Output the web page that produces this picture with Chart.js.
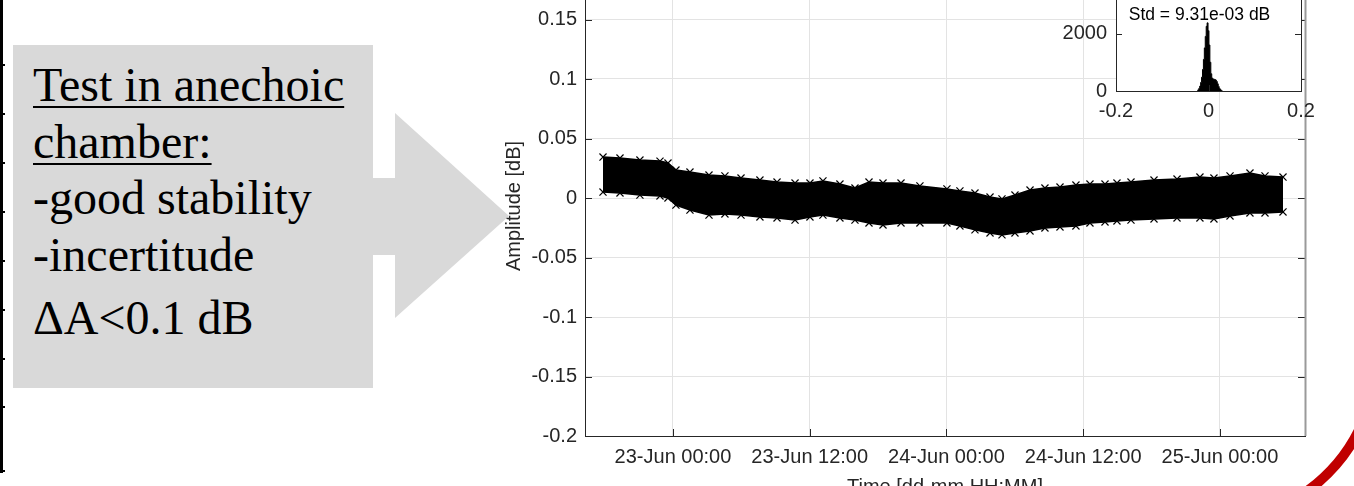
<!DOCTYPE html>
<html>
<head>
<meta charset="utf-8">
<script src="https://cdn.jsdelivr.net/npm/chart.js@4.4.1/dist/chart.umd.min.js"></script>
<style>
  html, body { margin: 0; padding: 0; background: #fff; }
  body { width: 1354px; height: 486px; position: relative; overflow: hidden; }
  .abs { position: absolute; }
  #note {
    left: 13px; top: 45px; width: 340px; height: 331px;
    background: #d9d9d9; padding: 12px 0 0 20px;
    font-family: 'Liberation Serif', 'Times New Roman', serif;
    font-size: 48px; line-height: 56.7px; color: #000;
  }
  #note u { text-decoration-thickness: 2px; text-underline-offset: 5px; }
  #note .last { margin-top: 6px; }
  #edge { left: 0; top: 0; width: 3px; height: 473px; background: #000; }
  .etick { position: absolute; left: 0; width: 5px; height: 2px; background: #000; }
</style>
</head>
<body>

<!-- slide decorations -->
<div id="edge" class="abs"></div>
<div id="edgeTicks"></div>
<svg class="abs" style="left:0;top:0" width="1354" height="486">
  <polygon points="373,178 395,178 395,113 509,216 395,318 395,255 373,255" fill="#d9d9d9"/>
</svg>
<div id="note" class="abs">
  <u>Test in anechoic</u><br>
  <u>chamber:</u><br>
  -good stability<br>
  -incertitude<br>
  <div class="last">&Delta;A&lt;0.1 dB</div>
</div>

<canvas id="main" class="abs" style="left:490px;top:-60px" width="864" height="570"></canvas>
<canvas id="inset" class="abs" style="left:1040px;top:-45px" width="300" height="180"></canvas>

<svg class="abs" style="left:0;top:0;pointer-events:none" width="1354" height="486">
  <path d="M 1306 492 Q 1342 466 1360 428" fill="none" stroke="#c00000" stroke-width="10"/>
</svg>

<script>
// Amplitude stability record (hours counted from 22-Jun 00:00)
const timeHours = [17.86, 19.35, 21.10, 22.86, 23.56, 24.26, 25.49, 27.16, 28.56, 29.97,
  31.63, 33.13, 34.71, 36.02, 37.16, 38.65, 39.97, 41.20, 42.43, 44.01,
  45.67, 48.04, 49.18, 50.50, 51.82, 52.87, 54.01, 55.33, 56.64, 57.96,
  59.36, 60.59, 61.91, 62.96, 64.19, 66.21, 68.23, 70.24, 71.47, 72.88,
  74.63, 75.95, 77.53];
// upper and lower edge of the measured band [dB]
const upperAmp = [0.0344, 0.0336, 0.0319, 0.0310, 0.0294, 0.0235, 0.0218, 0.0193, 0.0185, 0.0168,
  0.0151, 0.0134, 0.0126, 0.0126, 0.0143, 0.0117, 0.0084, 0.0134, 0.0126, 0.0126,
  0.0101, 0.0076, 0.0059, 0.0042, 0.0008, -0.0008, 0.0025, 0.0067, 0.0084, 0.0092,
  0.0109, 0.0117, 0.0117, 0.0126, 0.0134, 0.0151, 0.0159, 0.0176, 0.0168, 0.0185,
  0.0210, 0.0185, 0.0176];
const lowerAmp = [0.0050, 0.0042, 0.0025, 0.0017, 0.0000, -0.0059, -0.0101, -0.0143, -0.0134, -0.0143,
  -0.0159, -0.0168, -0.0185, -0.0159, -0.0143, -0.0168, -0.0185, -0.0210, -0.0227, -0.0210,
  -0.0210, -0.0210, -0.0235, -0.0268, -0.0294, -0.0310, -0.0294, -0.0277, -0.0252, -0.0243,
  -0.0235, -0.0210, -0.0201, -0.0193, -0.0185, -0.0176, -0.0168, -0.0168, -0.0176, -0.0151,
  -0.0126, -0.0126, -0.0117];

const xTickHours = [24, 36, 48, 60, 72];
const xMin = 16.28, xMax = 79.46;
const yMin = -0.2, yMax = 0.2, yStep = 0.05;
const yTitle = 'Amplitude [dB]';

// inset histogram
const histBins = [-0.024, -0.022, -0.020, -0.018, -0.016, -0.014, -0.012, -0.010, -0.008, -0.006,
  -0.004, -0.002, 0.000, 0.002, 0.004, 0.006, 0.008, 0.010, 0.012, 0.014,
  0.016, 0.018, 0.020, 0.022, 0.024, 0.026, 0.028, 0.030];
const histCounts = [0, 40, 90, 170, 300, 480, 750, 1100, 1500, 1900,
  2250, 2370, 2100, 1600, 1000, 600, 450, 420, 410, 400,
  380, 330, 250, 160, 90, 50, 20, 0];
const stdLabel = 'Std = 9.31e-03 dB';

// left strip ticks (neighbouring figure on the slide)
const edgeTickY = [65, 114, 163, 212, 261, 310, 359, 407, 471];

Chart.defaults.font.family = "'Liberation Sans', Arial, Helvetica, sans-serif";
Chart.defaults.color = '#262626';
Chart.defaults.animation = false;

const AXIS = '#262626';
const GRID = '#e3e3e3';

edgeTickY.forEach(y => {
  const d = document.createElement('div');
  d.className = 'etick';
  d.style.top = (y - 1) + 'px';
  document.getElementById('edgeTicks').appendChild(d);
});

function hourLabel(h) {
  const day = 22 + Math.floor(h / 24);
  const hh = String(h % 24).padStart(2, '0');
  return day + '-Jun ' + hh + ':00';
}

// inward ticks + remaining box lines, matlab style
function boxTicks(len, rightColor, rightWidth) {
  return {
    id: 'boxTicks',
    afterDatasetsDraw(chart) {
      const {ctx, chartArea: a, scales: {x, y}} = chart;
      ctx.save();
      ctx.strokeStyle = AXIS;
      ctx.lineWidth = 1;
      ctx.beginPath();
      y.ticks.forEach(t => {
        const py = Math.round(y.getPixelForValue(t.value)) + 0.5;
        ctx.moveTo(a.left, py); ctx.lineTo(a.left + len, py);
        ctx.moveTo(a.right, py); ctx.lineTo(a.right - len, py);
      });
      x.ticks.forEach(t => {
        const px = Math.round(x.getPixelForValue(t.value)) + 0.5;
        ctx.moveTo(px, a.bottom); ctx.lineTo(px, a.bottom - len);
        ctx.moveTo(px, a.top); ctx.lineTo(px, a.top + len);
      });
      ctx.moveTo(a.left, a.top + 0.5); ctx.lineTo(a.right, a.top + 0.5);
      ctx.stroke();
      ctx.strokeStyle = rightColor;
      ctx.lineWidth = rightWidth;
      ctx.beginPath();
      ctx.moveTo(a.right + 0.5, a.top); ctx.lineTo(a.right + 0.5, a.bottom);
      ctx.stroke();
      ctx.restore();
    }
  };
}

// y title drawn by hand: sits a little below the axis centre in the figure
const yTitlePlugin = {
  id: 'yTitle',
  afterDraw(chart) {
    const {ctx, chartArea: a} = chart;
    ctx.save();
    ctx.translate(24, (a.top + a.bottom) / 2 + 8);
    ctx.rotate(-Math.PI / 2);
    ctx.font = "20px 'Liberation Sans', Arial, sans-serif";
    ctx.fillStyle = AXIS;
    ctx.textAlign = 'center';
    ctx.textBaseline = 'middle';
    ctx.fillText(yTitle, 0, 0);
    ctx.restore();
  }
};

new Chart(document.getElementById('main'), {
  type: 'line',
  data: {
    datasets: [
      {
        data: timeHours.map((t, i) => ({x: t, y: upperAmp[i]})),
        borderColor: '#000', backgroundColor: '#000', borderWidth: 1.5,
        pointStyle: 'crossRot', pointRadius: 5, pointBorderWidth: 1.2, pointBorderColor: '#000',
        fill: false
      },
      {
        data: timeHours.map((t, i) => ({x: t, y: lowerAmp[i]})),
        borderColor: '#000', backgroundColor: '#000', borderWidth: 1.5,
        pointStyle: 'crossRot', pointRadius: 5, pointBorderWidth: 1.2, pointBorderColor: '#000',
        fill: '-1'
      }
    ]
  },
  options: {
    responsive: false,
    layout: { padding: { top: 20, right: 49, left: 0, bottom: 0 } },
    plugins: { legend: { display: false }, tooltip: { enabled: false } },
    scales: {
      x: {
        type: 'linear', min: xMin, max: xMax,
        afterBuildTicks: s => { s.ticks = xTickHours.map(v => ({value: v})); },
        afterFit: s => { s.height = 74; },
        grid: { color: GRID, drawTicks: false },
        border: { color: AXIS, width: 1 },
        ticks: { padding: 9, font: { size: 20 }, color: AXIS, maxRotation: 0,
                 callback: v => hourLabel(v) },
        title: { display: true, text: 'Time [dd-mm HH:MM]', font: { size: 20 }, color: AXIS,
                 padding: { top: 0, bottom: 11 } }
      },
      y: {
        min: yMin, max: yMax,
        afterFit: s => { s.width = 95; },
        grid: { color: GRID, drawTicks: false },
        border: { color: AXIS, width: 1 },
        ticks: { stepSize: yStep, padding: 8, font: { size: 20 }, color: AXIS,
                 callback: v => String(+v.toFixed(2)) },
        title: { display: false }
      }
    }
  },
  plugins: [boxTicks(7, '#9a9a9a', 2), yTitlePlugin]
});

new Chart(document.getElementById('inset'), {
  type: 'line',
  data: {
    datasets: [{
      data: histBins.map((b, i) => ({x: b, y: histCounts[i]})),
      borderColor: '#000', backgroundColor: '#000', borderWidth: 1,
      pointRadius: 0, stepped: 'middle', fill: 'origin'
    }]
  },
  options: {
    responsive: false,
    layout: { padding: { top: 20, right: 39, left: 0, bottom: 0 } },
    plugins: { legend: { display: false }, tooltip: { enabled: false } },
    scales: {
      x: {
        type: 'linear', min: -0.2, max: 0.2,
        afterFit: s => { s.height = 44; },
        grid: { display: false, drawTicks: false },
        border: { color: AXIS, width: 1 },
        ticks: { stepSize: 0.2, padding: 8, font: { size: 20 }, color: AXIS,
                 callback: v => String(+v.toFixed(1)) }
      },
      y: {
        min: 0, max: 4000,
        afterFit: s => { s.width = 76; },
        grid: { display: false, drawTicks: false },
        border: { color: AXIS, width: 1 },
        ticks: { stepSize: 2000, padding: 9, font: { size: 20 }, color: AXIS,
                 callback: v => String(v) }
      }
    }
  },
  plugins: [
    {
      id: 'insetBg',
      beforeDraw(chart) {
        const {ctx, chartArea: a} = chart;
        ctx.save();
        ctx.fillStyle = '#fff';
        ctx.fillRect(a.left, a.top, a.right - a.left, a.bottom - a.top);
        ctx.restore();
      }
    },
    boxTicks(6, AXIS, 1),
    {
      id: 'stdText',
      afterDraw(chart) {
        const {ctx, chartArea: a, scales: {y}} = chart;
        ctx.save();
        ctx.font = "17.5px 'Liberation Sans', Arial, sans-serif";
        ctx.fillStyle = '#000';
        ctx.textAlign = 'center';
        ctx.textBaseline = 'middle';
        ctx.fillText(stdLabel, (a.left + a.right) / 2 - 9, y.getPixelForValue(2650));
        ctx.restore();
      }
    }
  ]
});
</script>
</body>
</html>
